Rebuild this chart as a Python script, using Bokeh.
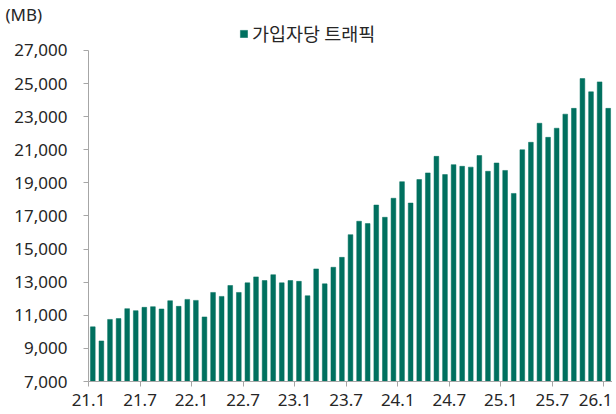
from bokeh.plotting import figure
from bokeh.models import (FixedTicker, NumeralTickFormatter, Legend, LegendItem,
                          ColumnDataSource, Range1d)
from bokeh.embed import file_html
from bokeh.resources import INLINE

# Monthly traffic per subscriber (MB), 21.1 .. 26.1
traffic = [10300, 9450, 10750, 10800, 11400, 11280, 11480, 11520, 11380, 11880, 11540, 11960,
           11900, 10900, 12380, 12140, 12800, 12380, 12960, 13320, 13100, 13450, 12960, 13100,
           13050, 12180, 13800, 12900, 13900, 14500, 15870, 16680, 16540, 17660, 16920, 18070,
           19070, 17780, 19200, 19600, 20600, 19500, 20100, 20000, 19950, 20650, 19700, 20200,
           19750, 18360, 21000, 21450, 22600, 21750, 22300, 23150, 23500, 25300, 24500, 25100,
           23500]
months = [f"{21 + i // 12}.{i % 12 + 1}" for i in range(len(traffic))]
tick_labels = ["21.1", "21.7", "22.1", "22.7", "23.1", "23.7", "24.1", "24.7", "25.1", "25.7", "26.1"]
y_ticks = [7000, 9000, 11000, 13000, 15000, 17000, 19000, 21000, 23000, 25000, 27000]
series_name = "가입자당 트래픽"
unit_label = "(MB)"

BAR = "#00705F"
AXIS = "#A6A6A6"
TEXT = "#262626"
FONT = "Noto Sans"

# layout (pixels): frame from top border to bottom of axis; 27,000 sits HEADROOM px below frame top
TOP, AXIS_H = 24, 332
HEADROOM = 49 - TOP
y_end = y_ticks[-1] + (y_ticks[-1] - y_ticks[0]) * HEADROOM / AXIS_H

src = ColumnDataSource(dict(x=[i + 0.5 for i in range(len(months))], top=traffic, month=months))

p = figure(width=612, height=414, output_backend="svg", toolbar_location=None,
           x_range=Range1d(0, len(months)), y_range=Range1d(y_ticks[0], y_end),
           min_border_left=88, min_border_right=0, min_border_top=TOP, min_border_bottom=33,
           title=unit_label)
p.outline_line_color = None
p.xgrid.visible = False
p.ygrid.visible = False
p.background_fill_color = "white"
p.border_fill_color = "white"

p.title.align = "left"
p.title.offset = -83
p.title.standoff = 0
p.title.text_font = FONT
p.title.text_font_size = "17px"
p.title.text_font_style = "normal"
p.title.text_color = TEXT

r = p.vbar(x="x", top="top", bottom=y_ticks[0], width=0.55, source=src,
           fill_color=BAR, line_color=BAR, line_width=0.5)

# y axis
p.yaxis.ticker = FixedTicker(ticks=y_ticks)
p.yaxis.bounds = (y_ticks[0], y_ticks[-1])
p.yaxis.formatter = NumeralTickFormatter(format="0,0")
p.yaxis.axis_line_color = AXIS
p.yaxis.major_tick_line_color = AXIS
p.yaxis.minor_tick_line_color = None
p.yaxis.major_tick_out = 5
p.yaxis.major_tick_in = 0
p.yaxis.major_label_standoff = 16
p.yaxis.major_label_text_font = FONT
p.yaxis.major_label_text_font_size = "17px"
p.yaxis.major_label_text_color = TEXT

# x axis: ticks at category boundaries
tick_pos = [months.index(t) for t in tick_labels]
p.xaxis.ticker = FixedTicker(ticks=tick_pos)
p.xaxis.major_label_overrides = {pos: lab for pos, lab in zip(tick_pos, tick_labels)}
p.xaxis.axis_line_color = AXIS
p.xaxis.major_tick_line_color = AXIS
p.xaxis.minor_tick_line_color = None
p.xaxis.major_tick_out = 5
p.xaxis.major_tick_in = 0
p.xaxis.major_label_standoff = 7
p.xaxis.major_label_text_font = FONT
p.xaxis.major_label_text_font_size = "17px"
p.xaxis.major_label_text_color = TEXT

legend = Legend(items=[LegendItem(label=series_name, renderers=[r])],
                location=(151, 335), orientation="horizontal",
                background_fill_alpha=0, border_line_alpha=0, padding=0, margin=0,
                glyph_width=9, glyph_height=9, label_standoff=4,
                label_text_font="Noto Sans CJK KR", label_text_font_size="18.5px",
                label_text_color=TEXT)
p.add_layout(legend, "center")

open("out.html", "w").write(file_html(p, INLINE))
